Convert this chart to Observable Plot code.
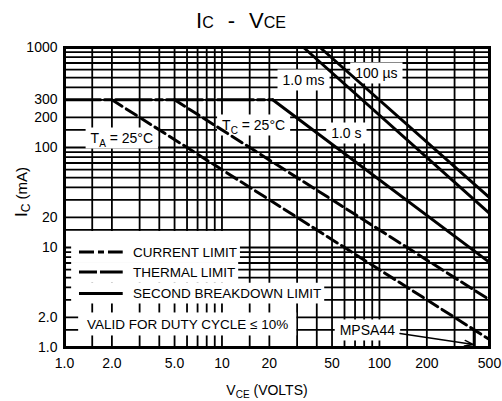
<!DOCTYPE html>
<html>
<head>
<meta charset="utf-8">
<script src="https://cdn.jsdelivr.net/npm/d3@7"></script>
<script src="https://cdn.jsdelivr.net/npm/@observablehq/plot@0.6"></script>
<style>
html,body{margin:0;padding:0;background:#fff;}
#chart svg{display:block;}
</style>
</head>
<body>
<div id="chart"></div>
<script>
// ---------------- data ----------------
const xTickValues = [1, 2, 5, 10, 20, 50, 100, 200, 500];
const xTickLabels = ["1.0", "2.0", "5.0", "10", "20", "50", "100", "200", "500"];
const yTickValues = [1, 2, 10, 20, 100, 200, 300, 1000];
const yTickLabels = ["1.0", "2.0", "10", "20", "100", "200", "300", "1000"];
const xGridValues = [1, 1.5, 2, 3, 4, 5, 6, 7, 8, 9, 10, 15, 20, 30, 40, 50, 60, 70, 80, 90, 100, 150, 200, 300, 400, 500];
const yGridValues = [1, 1.5, 2, 3, 4, 5, 6, 7, 8, 9, 10, 15, 20, 30, 40, 50, 60, 70, 80, 90, 100, 150, 200, 300, 400, 500, 600, 700, 800, 900, 1000];

// curves: VCE (volts) and IC (mA)
const pulse100usV = [42, 500];   const pulse100usI = [1000, 31.6];
const pulse1msV   = [33, 500];   const pulse1msI   = [1000, 22];
const dc1sV       = [21, 500];   const dc1sI       = [300, 7.1];
const thermalTCV  = [5, 500];    const thermalTCI  = [300, 3.0];
const thermalTAV  = [2, 500];    const thermalTAI  = [300, 1.2];
const currentPulseV = [1, 33];   const currentPulseI = [1000, 1000];
const currentDcV    = [1, 21];   const currentDcI    = [300, 300];
const mpsa44V = [400, 400];      const mpsa44I = [1, 1.5];

// annotation anchors (data units)
const curveLabelText = ["1.0 ms", "100 µs", "1.0 s", "TC", "TA", "MPSA44"];
const curveLabelV    = [33.2, 96.3, 62.1, 16.0, 2.33, 84.4];
const curveLabelI    = [468, 550, 138, 166, 123, 1.48];
const arrowV = [135, 396];
const arrowI = [1.38, 1.07];

const legendTexts = ["CURRENT LIMIT", "THERMAL LIMIT", "SECOND BREAKDOWN LIMIT"];
const legendRowI  = [8.91, 5.62, 3.43];
const noteText = "VALID FOR DUTY CYCLE ≤ 10%";
const noteI = 1.70;

// ---------------- drawing ----------------
const svgNS = "http://www.w3.org/2000/svg";
const FONT = "'Liberation Sans', Arial, Helvetica, sans-serif";
const dashDot = "36,4,7,4";
const dashed = "12,5";

const curve = (V, I, opts = {}) =>
  Plot.line(V.map((v, k) => ({v, i: I[k]})), {
    x: "v", y: "i", stroke: "black", strokeWidth: 3, ...opts
  });

const plot = Plot.plot({
  width: 502, height: 401,
  marginTop: 47, marginBottom: 54, marginLeft: 64, marginRight: 13,
  style: {fontFamily: FONT, fontSize: "14px", color: "black", background: "white", overflow: "visible"},
  x: {type: "log", domain: [1, 500], axis: null},
  y: {type: "log", domain: [1, 1000], axis: null},
  marks: [
    Plot.ruleX(xGridValues, {stroke: "black", strokeWidth: 1.8}),
    Plot.ruleY(yGridValues, {stroke: "black", strokeWidth: 1.8}),
    Plot.frame({stroke: "black", strokeWidth: 3}),
    Plot.text(xTickValues, {x: d => d, text: (d, k) => xTickLabels[k], frameAnchor: "bottom",
      lineAnchor: "top", dy: 11, fontSize: 14, fill: "black"}),
    Plot.text(yTickValues, {y: d => d, text: (d, k) => yTickLabels[k], frameAnchor: "left",
      textAnchor: "end", dx: -7, fontSize: 14, fill: "black"}),
    curve(currentPulseV, currentPulseI, {strokeDasharray: dashDot}),
    curve(currentDcV, currentDcI, {strokeDasharray: dashDot}),
    curve(pulse100usV, pulse100usI),
    curve(pulse1msV, pulse1msI),
    curve(dc1sV, dc1sI),
    curve(thermalTCV, thermalTCI, {strokeDasharray: dashed}),
    curve(thermalTAV, thermalTAI, {strokeDasharray: dashed}),
    curve(mpsa44V, mpsa44I),
    Plot.arrow([0], {x1: () => arrowV[0], y1: () => arrowI[0], x2: () => arrowV[1], y2: () => arrowI[1],
      stroke: "black", strokeWidth: 1.4, headLength: 10, headAngle: 35})
  ]
});
document.getElementById("chart").append(plot);

const sx = plot.scale("x"), sy = plot.scale("y");
const X = v => sx.apply(v), Y = i => sy.apply(i);

function makeText(parent, parts, x, y, anchor = "middle", transform = null) {
  const t = document.createElementNS(svgNS, "text");
  t.setAttribute("x", x); t.setAttribute("y", y);
  t.setAttribute("text-anchor", anchor);
  t.setAttribute("fill", "black");
  t.setAttribute("font-family", FONT);
  if (transform) t.setAttribute("transform", transform);
  for (const p of parts) {
    const s = document.createElementNS(svgNS, "tspan");
    s.textContent = p.t;
    s.setAttribute("font-size", p.s);
    if (p.dy) s.setAttribute("dy", p.dy);
    if (p.dx) s.setAttribute("dx", p.dx);
    s.setAttribute("style", "white-space:pre");
    t.appendChild(s);
  }
  parent.appendChild(t);
  return t;
}
function whiteRect(parent, x, y, w, h, before) {
  const r = document.createElementNS(svgNS, "rect");
  r.setAttribute("x", x); r.setAttribute("y", y);
  r.setAttribute("width", w); r.setAttribute("height", h);
  r.setAttribute("fill", "white");
  parent.insertBefore(r, before);
  return r;
}

// label layer: right after the frame (above grid, below curves)
let frameEl = plot.querySelector('[aria-label="frame"]');
while (frameEl && frameEl.parentNode !== plot) frameEl = frameEl.parentNode;
const labelLayer = document.createElementNS(svgNS, "g");
plot.insertBefore(labelLayer, frameEl ? frameEl.nextSibling : null);

const subParts = (main, sub) => [
  {t: main, s: 14}, {t: sub, s: 10, dy: 4}, {t: " = 25°C", s: 14, dy: -4}
];
curveLabelText.forEach((txt, k) => {
  const parts = (txt === "TC" || txt === "TA") ? subParts("T", txt[1]) : [{t: txt, s: 14}];
  const cx = X(curveLabelV[k]), cy = Y(curveLabelI[k]);
  const t = makeText(labelLayer, parts, cx, cy + 5);
  const b = t.getBBox();
  whiteRect(labelLayer, b.x - 5, cy - 10.5, b.width + 10, 21, t);
});

// legend
const legendLeft = X(1.11);
const sampleX1 = X(1.245), sampleX2 = X(2.36), textX = X(2.74);
const centers = legendRowI.map(Y);
const samples = ["15,4,6,4", "18,3,40", null];
centers.forEach((c, k) => {
  const rowTop = k === 0 ? c - 21 : (centers[k - 1] + c) / 2;
  const rowBottom = k === centers.length - 1 ? c + 10 : (c + centers[k + 1]) / 2;
  const t = makeText(labelLayer, [{t: legendTexts[k], s: 13.5}], textX, c + 5, "start");
  const b = t.getBBox();
  whiteRect(labelLayer, legendLeft, rowTop, b.x + b.width + 3 - legendLeft, rowBottom - rowTop, t);
});
// note row
{
  const c = Y(noteI);
  const t = makeText(labelLayer, [{t: noteText, s: 13.5}], X(1.40), c + 5, "start");
  const b = t.getBBox();
  const left = X(1.23);
  whiteRect(labelLayer, left, c - 11.5, b.x + b.width + 8 - left, 23, t);
}
// legend samples on top
const overlay = document.createElementNS(svgNS, "g");
plot.appendChild(overlay);
centers.forEach((c, k) => {
  const l = document.createElementNS(svgNS, "line");
  l.setAttribute("x1", sampleX1); l.setAttribute("x2", sampleX2);
  l.setAttribute("y1", c); l.setAttribute("y2", c);
  l.setAttribute("stroke", "black"); l.setAttribute("stroke-width", 3);
  if (samples[k]) l.setAttribute("stroke-dasharray", samples[k]);
  overlay.appendChild(l);
});

// titles
makeText(overlay, [
  {t: "I", s: 22}, {t: "C", s: 16},
  {t: "-", s: 22, dx: 14}, {t: "V", s: 22, dx: 14}, {t: "CE", s: 16}
], 241, 28);
makeText(overlay, [
  {t: "V", s: 14}, {t: "CE", s: 10, dy: 3}, {t: " (VOLTS)", s: 14, dy: -3}
], 267, 395);
makeText(overlay, [
  {t: "I", s: 17}, {t: "C", s: 12, dy: 3}, {t: " (mA)", s: 15, dy: -3}
], 0, 0, "middle", "translate(27,192) rotate(-90)");
</script>
</body>
</html>
